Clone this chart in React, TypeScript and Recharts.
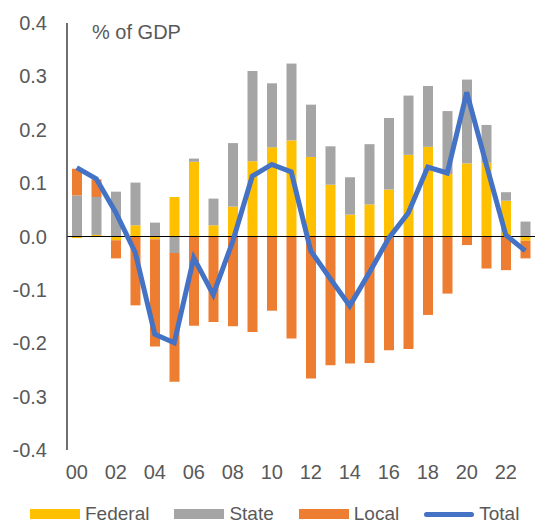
import {
  ComposedChart,
  Bar,
  Line,
  XAxis,
  YAxis,
  ReferenceLine,
} from 'recharts';

// Years 2000-2023, shown as two-digit labels
const YEARS = ['00', '01', '02', '03', '04', '05', '06', '07', '08', '09', '10', '11',
  '12', '13', '14', '15', '16', '17', '18', '19', '20', '21', '22', '23'];

const FEDERAL = [-0.003, 0.003, -0.007, 0.021, -0.005, 0.074, 0.14, 0.021, 0.056, 0.141, 0.167, 0.18,
  0.149, 0.097, 0.041, 0.06, 0.088, 0.153, 0.168, 0.117, 0.137, 0.138, 0.067, -0.008];
const STATE = [0.077, 0.071, 0.084, 0.08, 0.026, -0.031, 0.006, 0.05, 0.119, 0.169, 0.12, 0.144,
  0.098, 0.072, 0.07, 0.113, 0.134, 0.111, 0.114, 0.118, 0.157, 0.071, 0.016, 0.028];
const LOCAL = [0.05, 0.033, -0.034, -0.129, -0.201, -0.241, -0.167, -0.16, -0.168, -0.179, -0.139, -0.191,
  -0.266, -0.241, -0.238, -0.237, -0.213, -0.211, -0.147, -0.107, -0.016, -0.06, -0.063, -0.033];
const TOTAL = [0.129, 0.108, 0.045, -0.03, -0.183, -0.199, -0.04, -0.109, -0.009, 0.113, 0.135, 0.121,
  -0.027, -0.079, -0.13, -0.068, -0.003, 0.044, 0.13, 0.119, 0.27, 0.135, 0.003, -0.027];

const Y_TICKS = [-0.4, -0.3, -0.2, -0.1, 0, 0.1, 0.2, 0.3, 0.4];

const COLORS = {
  federal: '#FFC000',
  state: '#A5A5A5',
  local: '#ED7D31',
  total: '#4472C4',
};

const FONT = '"Liberation Sans", Arial, sans-serif';
const TEXT = '#595959';
const FONT_SIZE = 20;

const data = YEARS.map((year, i) => ({
  year,
  federal: FEDERAL[i],
  state: STATE[i],
  local: LOCAL[i],
  total: TOTAL[i],
}));

function LegendRow() {
  const items = [
    { label: 'Federal', color: COLORS.federal, line: false },
    { label: 'State', color: COLORS.state, line: false },
    { label: 'Local', color: COLORS.local, line: false },
    { label: 'Total', color: COLORS.total, line: true },
  ];
  return (
    <div
      style={{
        position: 'absolute',
        left: 30,
        top: 503,
        display: 'flex',
        alignItems: 'center',
        fontFamily: FONT,
        fontSize: 19,
        color: TEXT,
        whiteSpace: 'nowrap',
      }}
    >
      {items.map((it) => (
        <div key={it.label} style={{ display: 'flex', alignItems: 'center', marginRight: 25 }}>
          <div
            style={{
              width: 50,
              height: it.line ? 5 : 10,
              borderRadius: it.line ? 3 : 0,
              background: it.color,
              marginRight: 5,
            }}
          />
          <span>{it.label}</span>
        </div>
      ))}
    </div>
  );
}

export default function App() {
  return (
    <div style={{ position: 'absolute', left: 0, top: 0, width: 537, height: 525, background: '#fff' }}>
      <ComposedChart
        width={537}
        height={490}
        data={data}
        stackOffset="sign"
        barSize={10}
        margin={{ top: 23, right: 2, bottom: 0, left: 0 }}
      >
        <XAxis
          dataKey="year"
          interval={1}
          axisLine={false}
          tickLine={false}
          tickSize={0}
          tickMargin={15}
          height={40}
          tick={{ fill: TEXT, fontSize: FONT_SIZE, fontFamily: FONT }}
        />
        <YAxis
          domain={[-0.4, 0.4]}
          ticks={Y_TICKS}
          width={67}
          tickLine={false}
          tickSize={0}
          tickMargin={20}
          axisLine={{ stroke: '#404040', strokeWidth: 1.5 }}
          tickFormatter={(v: number) => v.toFixed(1)}
          tick={{ fill: TEXT, fontSize: FONT_SIZE, fontFamily: FONT }}
        />
        <Bar dataKey="federal" stackId="a" fill={COLORS.federal} isAnimationActive={false} />
        <Bar dataKey="state" stackId="a" fill={COLORS.state} isAnimationActive={false} />
        <Bar dataKey="local" stackId="a" fill={COLORS.local} isAnimationActive={false} />
        <ReferenceLine y={0} stroke="#000" strokeWidth={1.2} />
        <Line
          dataKey="total"
          type="linear"
          stroke={COLORS.total}
          strokeWidth={5}
          dot={false}
          activeDot={false}
          isAnimationActive={false}
        />
      </ComposedChart>
      <div
        style={{
          position: 'absolute',
          left: 92,
          top: 21,
          fontFamily: FONT,
          fontSize: FONT_SIZE,
          color: TEXT,
        }}
      >
        % of GDP
      </div>
      <LegendRow />
    </div>
  );
}
